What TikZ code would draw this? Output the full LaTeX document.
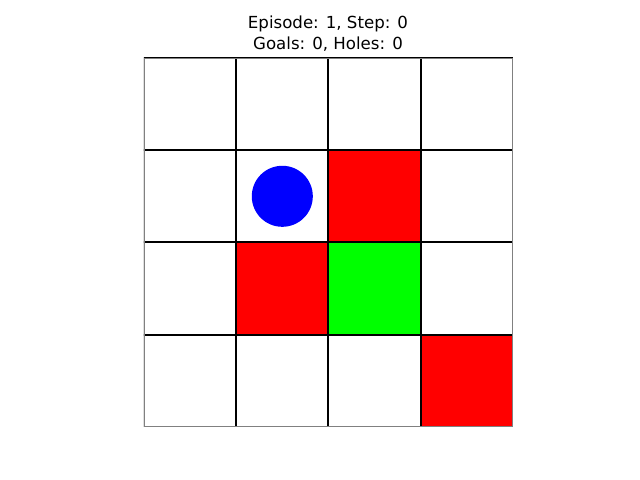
\documentclass[tikz,border=0pt]{standalone}
\usepackage{fontspec}
\setmainfont{DejaVu Sans}
\usepackage{xcolor}
\usetikzlibrary{positioning}

\definecolor{hole}{RGB}{255,0,0}
\definecolor{goal}{RGB}{0,255,0}
\definecolor{agent}{RGB}{0,0,255}

\tikzset{
    cell/.style={rectangle, minimum size=0.922in, inner sep=0pt, outer sep=0pt},
    gridline/.style={draw=black, line width=1.4pt}
}

\begin{document}
\begin{tikzpicture}[x=0.01in, y=-0.01in]
    % Canvas
    \useasboundingbox (0,0) rectangle (640,480);

    % Title
    \node[align=center, font=\fontsize{12pt}{15pt}\selectfont] (title) at (328,34) {Episode: 1, Step: 0\\Goals: 0, Holes: 0};

    % Cells
    \foreach \r in {0,...,3}
        \foreach \c in {0,...,3}
            \node[cell, fill=white] (c\r\c) at ({144+92.2*(\c+0.5)}, {58+92.2*(\r+0.5)}) {};

    % Holes and goal
    \node[cell, fill=hole] (hole1) at (c12) {};
    \node[cell, fill=hole] (hole2) at (c21) {};
    \node[cell, fill=hole] (hole3) at (c33) {};
    \node[cell, fill=goal] (goal) at (c22) {};

    % Grid lines, clipped to the board
    \begin{scope}
        \clip (c00.north west) rectangle (c33.south east);
        \foreach \r in {0,...,3}
            \foreach \c in {0,...,3}
                \draw[gridline] (c\r\c.north west) rectangle (c\r\c.south east);
    \end{scope}
    \draw[gray, line width=0.6pt] (c00.north west) rectangle (c33.south east);

    % Agent
    \node[circle, fill=agent, minimum size=0.61in, inner sep=0pt] (agent) at (c11) {};
\end{tikzpicture}
\end{document}
